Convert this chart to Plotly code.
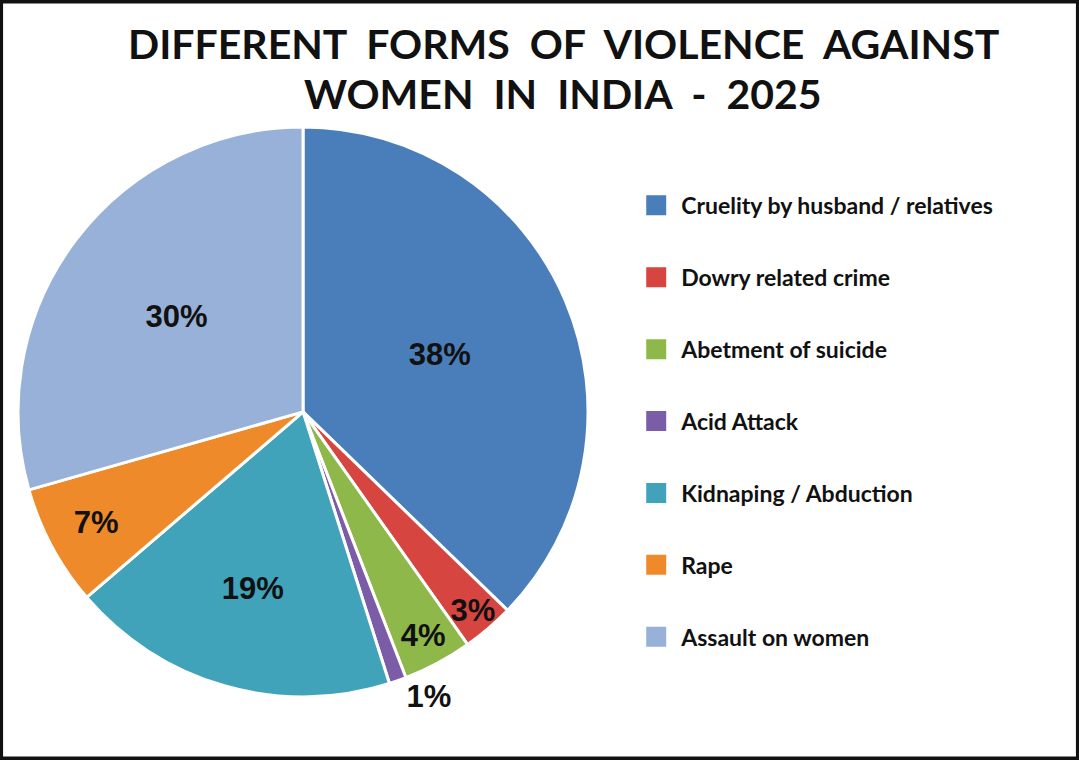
import plotly.graph_objects as go

# data
categories = ['Cruelity by husband / relatives', 'Dowry related crime', 'Abetment of suicide',
              'Acid Attack', 'Kidnaping / Abduction', 'Rape', 'Assault on women']
shares = [38, 3, 4, 1, 19, 7, 30]
share_labels = ['38%', '3%', '4%', '1%', '19%', '7%', '30%']
label_pos = ['inside', 'inside', 'inside', 'outside', 'inside', 'inside', 'inside']
colors = ['#4A7EBB', '#D6453F', '#8FB84A', '#7B5CA6', '#40A3BA', '#EF8A2B', '#98B1D8']
title_lines = ['DIFFERENT  FORMS  OF  VIOLENCE  AGAINST', 'WOMEN  IN  INDIA  -  2025']

pct_font = dict(family='Liberation Sans, Arial, sans-serif', size=31, color='#111111', weight=700)

fig = go.Figure()

fig.add_trace(go.Pie(labels=categories, values=shares, text=share_labels,
                     textinfo='text', textposition=label_pos,
                     insidetextorientation='horizontal',
                     sort=False, direction='clockwise', rotation=0,
                     marker=dict(colors=colors, line=dict(color='white', width=3)),
                     textfont=pct_font, insidetextfont=pct_font, outsidetextfont=pct_font,
                     domain=dict(x=[0.0167, 0.545], y=[0.083, 0.833]),
                     hoverinfo='label+text', showlegend=False))

# legend entries (own groups so the row gap can be set)
for name, col in zip(categories, colors):
    fig.add_trace(go.Scatter(x=[None], y=[None], mode='markers', name=name,
                             legendgroup=name,
                             marker=dict(symbol='square', size=16, color=col,
                                         line=dict(color=col, width=4))))

# title, two lines
for line, ypos in zip(title_lines, [0.943, 0.877]):
    fig.add_annotation(text=line, xref='paper', yref='paper', x=0.522, y=ypos,
                       xanchor='center', yanchor='middle', showarrow=False,
                       font=dict(family='Lato, sans-serif', size=41, color='#111111', weight=700))

fig.add_shape(type='rect', xref='paper', yref='paper', x0=0.001, x1=0.999, y0=0.002, y1=0.998,
              line=dict(color='#111111', width=4), layer='above')

fig.update_layout(
    width=1079, height=760,
    margin=dict(l=0, r=0, t=0, b=0),
    paper_bgcolor='white', plot_bgcolor='white',
    xaxis=dict(visible=False), yaxis=dict(visible=False),
    uniformtext=dict(minsize=31, mode='show'),
    legend=dict(x=0.585, y=0.758, xanchor='left', yanchor='top',
                font=dict(family='Lato, Noto Sans, sans-serif', size=23, color='#111111', weight=700),
                tracegroupgap=39, itemwidth=40, itemclick=False, itemdoubleclick=False),
)

# page body has a default margin; drop it so the figure sits at the corner
fig.write_html("out.html", config={'displayModeBar': False},
               post_script="document.body.style.margin='0px';")
